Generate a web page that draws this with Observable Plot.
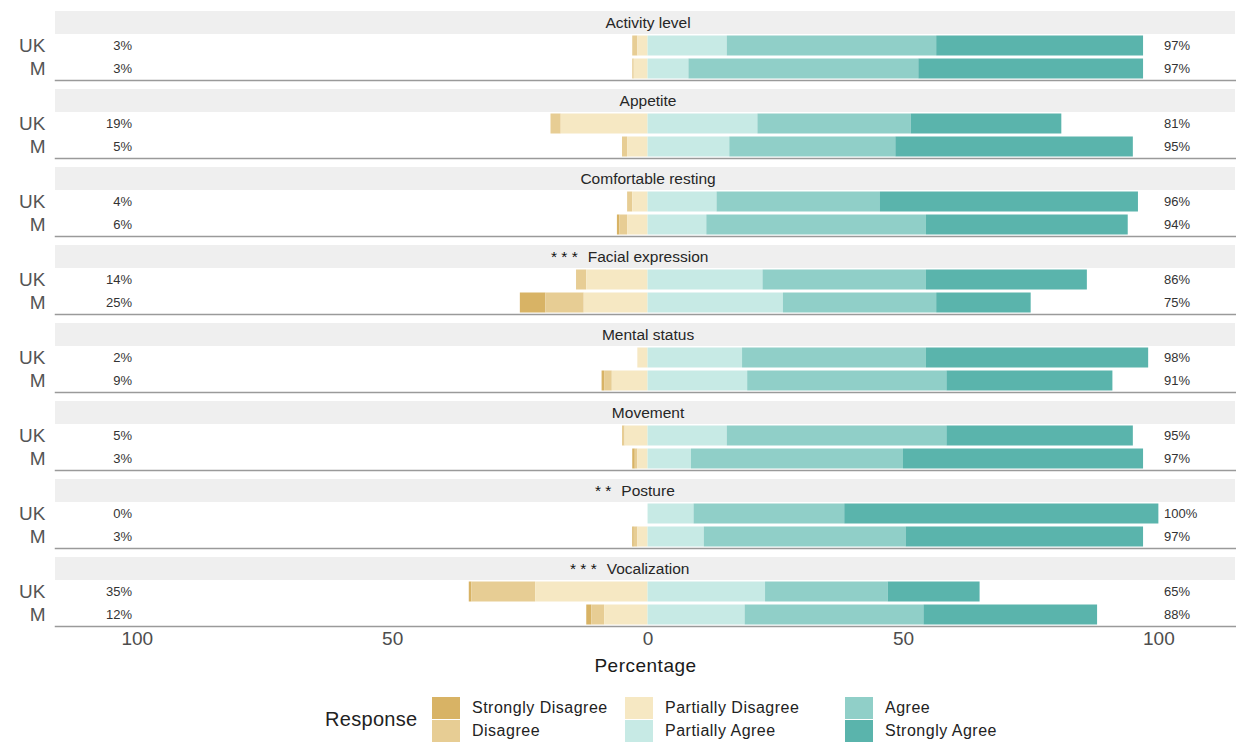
<!DOCTYPE html>
<html>
<head>
<meta charset="utf-8">
<script src="https://cdn.jsdelivr.net/npm/d3@7"></script>
<script src="https://cdn.jsdelivr.net/npm/@observablehq/plot@0.6"></script>
<style>
  body { margin: 0; background: #fff; font-family: "Liberation Sans", Arial, sans-serif; }
  #chart svg { display: block; overflow: visible; }
  g[aria-label="x-axis label"] text { fill: #1a1a1a; letter-spacing: 0.5px; }
  #legend { display: flex; align-items: center; margin-top: 17px; padding-left: 325px; color: #222; }
  #legend .title { width: 107px; font-size: 20px; letter-spacing: 0.3px; }
  #legend .col { display: flex; flex-direction: column; gap: 1px; }
  #legend .item { display: flex; align-items: center; height: 22px; font-size: 16px; letter-spacing: 0.5px; }
  #legend .swatch { width: 28px; height: 22px; margin-right: 12px; }
</style>
</head>
<body>
<div id="chart"></div>
<div id="legend"></div>
<script>
// Pain-assessment items, one facet each, and their significance markers
const aspects = ["Activity level", "Appetite", "Comfortable resting", "Facial expression",
                 "Mental status", "Movement", "Posture", "Vocalization"];
const significance = ["", "", "", "* * *", "", "", "* *", "* * *"];
const groups = ["UK", "M"];

const responses = ["Strongly Disagree", "Disagree", "Partially Disagree",
                   "Partially Agree", "Agree", "Strongly Agree"];
const responseColors = ["#d8b365", "#e7cd94", "#f6e8c3", "#c7eae5", "#90cfc8", "#5ab4ac"];

// Percent of respondents per response; order: aspect by aspect, UK then M
const stronglyDisagree  = [0, 0,     0, 0,     0, 0.5,   0, 5,      0, 0.5,   0, 0.5,   0, 0.3,    0.5, 1];
const disagree          = [1, 0.3,   2, 1,     1, 1.5,   2, 7.5,    0, 1.5,   0.5, 0.5, 0, 0.7,    12.5, 2.5];
const partiallyDisagree = [2, 2.7,   17, 4,    3, 4,     12, 12.5,  2, 7,     4.5, 2,   0, 2,      22, 8.5];
const partiallyAgree    = [15.5, 8,  21.5, 16, 13.5, 11.5, 22.5, 26.5, 18.5, 19.5, 15.5, 8.5, 9, 11, 23, 19];
const agree             = [41, 45,   30, 32.5, 32, 43,   32, 30,    36, 39,   43, 41.5, 29.5, 39.5, 24, 35];
const stronglyAgree     = [40.5, 44, 29.5, 46.5, 50.5, 39.5, 31.5, 18.5, 43.5, 32.5, 36.5, 47, 61.5, 46.5, 18, 34];

const xDomain = [-116, 115];
const xTicks = [-100, -50, 0, 50, 100];

// Build a long table of signed segments plus per-row totals
const rows = [];
const segments = [];
aspects.forEach((aspect, i) => {
  groups.forEach((group, j) => {
    const k = i * 2 + j;
    const values = [stronglyDisagree[k], disagree[k], partiallyDisagree[k],
                    partiallyAgree[k], agree[k], stronglyAgree[k]];
    rows.push({
      aspect, group,
      disagreeTotal: d3.sum(values.slice(0, 3)),
      agreeTotal: d3.sum(values.slice(3))
    });
    responses.forEach((response, m) => {
      segments.push({aspect, group, response, value: m < 3 ? -values[m] : values[m]});
    });
  });
});

// Stack outward from zero: the "partial" answers sit closest to the centre line
const stackOrder = ["Partially Disagree", "Disagree", "Strongly Disagree",
                    "Partially Agree", "Agree", "Strongly Agree"];

const titleFont = 15.5;
const ctx = document.createElement("canvas").getContext("2d");
ctx.font = `${titleFont}px "Liberation Sans"`;

const starMarks = aspects.map((aspect, i) => {
  if (!significance[i]) return null;
  const w = ctx.measureText(aspect).width;
  return Plot.text([aspect], {
    fy: d => d, y: () => "strip", x: () => 0,
    text: () => significance[i], textAnchor: "end", dx: -(w / 2 + 10),
    fontSize: titleFont, fill: "#111"
  });
});

const chart = Plot.plot({
  width: 1236,
  height: 680,
  marginLeft: 55,
  marginRight: 1,
  marginTop: 10,
  marginBottom: 53,
  style: {fontFamily: '"Liberation Sans", Arial, sans-serif', background: "#fff"},
  x: {domain: xDomain},
  y: {domain: ["strip", ...groups], padding: 0},
  fy: {domain: aspects, paddingInner: 0.1, paddingOuter: 0, axis: null, label: null},
  color: {domain: responses, range: responseColors},
  marks: [
    // grey facet strips with titles
    Plot.barX(aspects, {fy: d => d, y: () => "strip", x1: () => xDomain[0], x2: () => xDomain[1], fill: "#efefef"}),
    Plot.text(aspects, {fy: d => d, y: () => "strip", x: () => 0, text: d => d, fontSize: titleFont, fill: "#262626"}),
    ...starMarks.filter(Boolean),
    // dotted centre line, visible between the bars
    Plot.ruleX(rows, {fy: "aspect", y: "group", x: () => 0, stroke: "#000", strokeDasharray: "1.5,2.5"}),
    // diverging stacked bars
    Plot.barX(segments, Plot.stackX({
      fy: "aspect", y: "group", x: "value", fill: "response", order: stackOrder,
      insetTop: 1.5, insetBottom: 1.5
    })),
    // totals on each side
    Plot.text(rows, {fy: "aspect", y: "group", x: () => -101, text: d => `${Math.round(d.disagreeTotal)}%`,
                     textAnchor: "end", fontSize: 13, fill: "#333"}),
    Plot.text(rows, {fy: "aspect", y: "group", x: () => 101, text: d => `${Math.round(d.agreeTotal)}%`,
                     textAnchor: "start", fontSize: 13, fill: "#333"}),
    // panel borders: left and bottom
    Plot.ruleX(rows, {fy: "aspect", y: "group", x: () => xDomain[0], stroke: "#9a9a9a", strokeWidth: 1.2}),
    Plot.frame({anchor: "bottom", stroke: "#9a9a9a", strokeWidth: 1.5}),
    Plot.axisY(groups, {tickSize: 0, tickPadding: 10, fontSize: 19, color: "#555", label: null}),
    Plot.axisX({ticks: xTicks, tickFormat: Math.abs, tickSize: 0, tickPadding: 5, fontSize: 19, color: "#4d4d4d",
                label: "Percentage", labelAnchor: "center", labelArrow: "none", labelOffset: 45})
  ]
});
document.getElementById("chart").append(chart);

// Legend: response swatches in three columns of two
const legend = document.getElementById("legend");
const title = document.createElement("div");
title.className = "title";
title.textContent = "Response";
legend.append(title);
const colWidths = [193, 220, 160];
for (let c = 0; c < 3; c++) {
  const col = document.createElement("div");
  col.className = "col";
  col.style.width = colWidths[c] + "px";
  for (let r = 0; r < 2; r++) {
    const idx = c * 2 + r;
    const item = document.createElement("div");
    item.className = "item";
    const sw = document.createElement("div");
    sw.className = "swatch";
    sw.style.background = responseColors[idx];
    const label = document.createElement("span");
    label.textContent = responses[idx];
    item.append(sw, label);
    col.append(item);
  }
  legend.append(col);
}
</script>
</body>
</html>
